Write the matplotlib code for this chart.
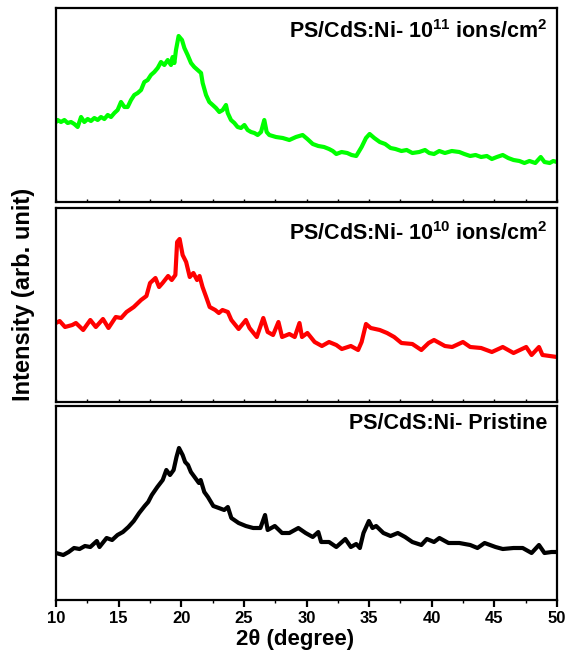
import matplotlib
matplotlib.use("Agg")
import matplotlib.pyplot as plt
from matplotlib.ticker import MultipleLocator

plt.rcParams['font.family'] = ['Liberation Sans', 'DejaVu Sans']
plt.rcParams['font.weight'] = 'bold'
plt.rcParams['mathtext.fontset'] = 'custom'
plt.rcParams['mathtext.rm'] = 'Liberation Sans:bold'
plt.rcParams['mathtext.it'] = 'Liberation Sans:bold'
plt.rcParams['mathtext.bf'] = 'Liberation Sans:bold'

# 10^11 ions/cm2 (green)
theta_11 = [10.0, 10.13, 10.4, 10.67, 10.93, 11.2, 11.46, 11.73, 12.0, 12.26, 12.53, 12.79,
            13.06, 13.33, 13.59, 13.86, 14.13, 14.39, 14.66, 14.92, 15.19, 15.46, 15.72, 15.99,
            16.25, 16.52, 16.79, 17.05, 17.32, 17.58, 17.85, 18.12, 18.38, 18.65, 18.92, 19.18,
            19.31, 19.45, 19.58, 19.79, 20.06, 20.25, 20.51, 20.78, 21.04, 21.31, 21.58, 21.71,
            21.98, 22.24, 22.51, 22.77, 23.04, 23.31, 23.57, 23.71, 23.97, 24.24, 24.5, 24.77,
            25.04, 25.3, 25.57, 25.84, 26.1, 26.37, 26.63, 26.82, 27.03, 27.56, 28.1, 28.63,
            29.16, 29.69, 30.07, 30.5, 30.94, 31.4, 31.8, 32.1, 32.38, 32.8, 33.25, 33.6,
            33.97, 34.4, 34.75, 35.04, 35.41, 35.85, 36.28, 36.71, 37.1, 37.58, 38.0, 38.45,
            39.0, 39.46, 39.8, 40.18, 40.6, 41.05, 41.6, 42.2, 42.6, 43.07, 43.5, 43.94,
            44.4, 44.8, 45.2, 45.67, 46.1, 46.53, 47.0, 47.4, 47.8, 48.27, 48.7, 49.0,
            49.42, 49.7, 50.0]
int_11 = [80, 82, 80, 82, 79, 80, 78, 75, 85, 80, 83, 81,
          84, 82, 85, 83, 87, 85, 89, 92, 100, 95, 95, 102,
          107, 109, 112, 120, 122, 127, 130, 134, 140, 137, 142, 137,
          145, 139, 152, 166, 162, 154, 147, 139, 135, 132, 129, 119,
          107, 100, 97, 94, 90, 92, 97, 89, 82, 79, 75, 74,
          77, 72, 70, 69, 67, 70, 82, 70, 67, 65, 64, 62,
          65, 67, 63, 58, 56, 55, 53, 51, 48, 50, 49, 47,
          46, 55, 64, 68, 64, 60, 58, 54, 53, 51, 52, 49,
          50, 52, 49, 48, 51, 49, 51, 50, 48, 46, 47, 45,
          46, 43, 45, 47, 44, 42, 41, 39, 41, 39, 45, 40,
          39, 41, 40]

# 10^10 ions/cm2 (red)
theta_10 = [10.0, 10.29, 10.72, 11.3, 11.59, 12.17, 12.74, 13.18, 13.75, 14.19, 14.77, 15.2,
            15.63, 16.21, 16.79, 17.22, 17.51, 17.94, 18.23, 18.51, 18.95, 19.24, 19.53, 19.67,
            19.87, 20.11, 20.39, 20.68, 20.97, 21.26, 21.46, 21.7, 21.99, 22.27, 22.71, 23.0,
            23.29, 23.72, 24.0, 24.58, 25.16, 25.45, 26.03, 26.55, 26.9, 27.33, 27.76, 28.05,
            28.63, 29.06, 29.44, 29.64, 30.07, 30.65, 31.23, 31.8, 32.38, 32.82, 33.54, 34.12,
            34.4, 34.75, 35.13, 35.85, 36.43, 37.0, 37.58, 38.45, 39.17, 39.75, 40.18, 41.05,
            41.63, 42.49, 43.07, 43.94, 44.8, 45.67, 46.53, 47.54, 47.97, 48.56, 48.84, 50.0]
int_10 = [79, 81, 75, 77, 79, 72, 82, 75, 83, 74, 85, 84,
          90, 95, 102, 106, 119, 124, 115, 119, 126, 122, 127, 160,
          163, 147, 140, 125, 129, 122, 126, 115, 105, 95, 92, 89,
          92, 90, 82, 73, 82, 74, 65, 84, 70, 67, 80, 65,
          68, 65, 79, 65, 69, 60, 56, 60, 57, 53, 56, 52,
          60, 78, 74, 72, 69, 65, 59, 58, 52, 59, 62, 56,
          55, 60, 55, 54, 50, 55, 49, 55, 47, 55, 47, 45]

# Pristine (black)
theta_0 = [10.0, 10.58, 11.01, 11.44, 11.88, 12.31, 12.74, 13.26, 13.47, 14.04, 14.48, 14.91,
           15.34, 15.78, 16.21, 16.64, 17.08, 17.36, 17.65, 18.09, 18.52, 18.81, 19.1, 19.39,
           19.62, 19.82, 20.11, 20.31, 20.54, 20.77, 21.12, 21.41, 21.55, 21.84, 22.13, 22.56,
           23.0, 23.43, 23.72, 24.0, 24.58, 25.16, 25.74, 26.32, 26.69, 26.9, 27.47, 28.05,
           28.63, 29.35, 29.93, 30.5, 30.94, 31.17, 31.8, 32.38, 33.1, 33.54, 33.97, 34.26,
           34.55, 34.98, 35.27, 35.56, 36.14, 36.71, 37.29, 37.87, 38.45, 39.17, 39.61, 40.18,
           40.61, 41.34, 42.2, 43.07, 43.65, 44.22, 45.09, 45.67, 46.53, 47.26, 47.97, 48.56,
           49.0, 49.57, 50.0]
int_0 = [47, 45, 48, 52, 51, 54, 53, 59, 53, 62, 60, 65,
         68, 73, 79, 87, 94, 98, 105, 113, 120, 130, 125, 130,
         143, 152, 145, 138, 135, 128, 122, 117, 120, 108, 103, 94,
         92, 90, 93, 82, 77, 74, 72, 72, 85, 70, 74, 67,
         67, 72, 67, 63, 68, 58, 58, 53, 61, 53, 56, 52,
         67, 79, 72, 74, 67, 64, 67, 63, 58, 55, 61, 58,
         62, 57, 57, 55, 52, 57, 53, 51, 52, 52, 47, 55,
         47, 48, 48]

panels = [
    (theta_11, int_11, '#00ff00', 'PS/CdS:Ni- 10$^{11}$ ions/cm$^{2}$', 0.88),
    (theta_10, int_10, '#ff0000', 'PS/CdS:Ni- 10$^{10}$ ions/cm$^{2}$', 0.87),
    (theta_0, int_0, '#000000', 'PS/CdS:Ni- Pristine', 0.91),
]

W, H = 566, 654
fig = plt.figure(figsize=(W / 100, H / 100), dpi=100)

left, right = 56, 557
tops = [8, 208, 406]
bottoms = [202, 402, 600]

for i, (x, y, color, label, ty) in enumerate(panels):
    ax = fig.add_axes([left / W, 1 - bottoms[i] / H, (right - left) / W, (bottoms[i] - tops[i]) / H])
    ax.plot(x, y, color=color, lw=3, solid_joinstyle='round')
    ax.set_xlim(10, 50)
    ax.set_ylim(0, bottoms[i] - tops[i])
    ax.set_yticks([])
    for s in ax.spines.values():
        s.set_linewidth(1.6)
    ax.xaxis.set_major_locator(MultipleLocator(5))
    ax.xaxis.set_minor_locator(MultipleLocator(2.5))
    ax.text(0.98, ty, label, transform=ax.transAxes, ha='right', va='center',
            fontsize=15.5, fontweight='bold')
    if i < 2:
        ax.tick_params(axis='x', which='both', direction='in', length=2, width=1,
                       labelbottom=False)
    else:
        ax.tick_params(axis='x', which='major', direction='out', length=5, width=1.6,
                       labelsize=12, pad=3)
        ax.tick_params(axis='x', which='minor', direction='out', length=2, width=1)
        for t in ax.get_xticklabels():
            t.set_fontweight('bold')

fig.text(295 / W, 1 - 640 / H, '2θ (degree)', ha='center', va='center',
         fontsize=16, fontweight='bold')
fig.text(24 / W, 1 - 294 / H, 'Intensity (arb. unit)', rotation=90, ha='center', va='center',
         fontsize=17, fontweight='bold')

fig.savefig('out.png', dpi=100)
